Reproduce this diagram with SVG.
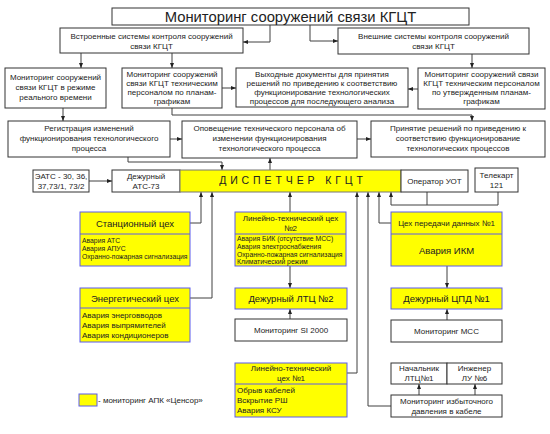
<svg xmlns="http://www.w3.org/2000/svg" width="550" height="434" viewBox="0 0 550 434">
<defs>
<marker id="ah" viewBox="0 0 10 10" refX="10" refY="5" markerWidth="5" markerHeight="5" orient="auto" markerUnits="userSpaceOnUse"><path d="M0,1 L10,5 L0,9 z" fill="#222"/></marker>
<style>
text{font-family:"Liberation Sans",Arial,sans-serif;fill:#222;text-anchor:middle}
.w{fill:#fff;stroke:#333;stroke-width:1}
.y{fill:#ffff00;stroke:#5a5aee;stroke-width:1}
.dv{stroke:#5a5aee;stroke-width:1}
.c{fill:none;stroke:#404040;stroke-width:1}
.ca{fill:none;stroke:#404040;stroke-width:1;marker-end:url(#ah)}
.s8{font-size:8px}
.s7{font-size:6.8px}
.s9{font-size:9.5px}
.l{text-anchor:start}
</style>
</defs>
<rect width="550" height="434" fill="#fff"/>

<g id="connectors">
<path class="ca" d="M270,25 V42 H243"/>
<path class="ca" d="M310,25 V41 H338"/>
<path class="ca" d="M81,53 V68"/>
<path class="ca" d="M172,53 V68"/>
<path class="ca" d="M222,88 H236"/>
<path class="ca" d="M418,89 H408"/>
<path class="ca" d="M472,54 V68"/>
<path class="ca" d="M172,108 V115 H472 V121"/>
<path class="ca" d="M63,108 V121"/>
<path class="ca" d="M170,139 H182"/>
<path class="ca" d="M357,139 H371"/>
<path class="ca" d="M128,157 V162 H222 V170"/>
<path class="ca" d="M270,170 V158"/>
<path class="ca" d="M89,181 H112"/>
<path class="ca" d="M190,223 H201 V192"/>
<path class="ca" d="M190,298 H212 V192"/>
<path class="ca" d="M290,212 V192"/>
<path class="ca" d="M346,373 H357 V192"/>
<path class="ca" d="M391,406 H368 V192"/>
<path class="ca" d="M391,223 H379 V192"/>
<path class="c" d="M427,192 V205"/>
<path class="ca" d="M498,192 V205 H391 V192"/>
<path class="ca" d="M290,266 V288"/>
<path class="ca" d="M290,319 V309"/>
<path class="ca" d="M447,266 V288"/>
<path class="ca" d="M447,320 V309"/>
<path class="ca" d="M419,395 V384"/>
<path class="ca" d="M475,395 V384"/>
</g>

<g id="title"><rect class="w" x="112" y="8" width="357" height="17"/><text x="290.5" y="21.5" style="font-size:14.8px">Мониторинг сооружений связи КГЦТ</text></g>

<g id="builtin"><rect class="w" x="60" y="28" width="183" height="25"/><text class="s8" x="151.5" y="39">Встроенные системы контроля сооружений</text><text class="s8" x="151.5" y="49">связи КГЦТ</text></g>
<g id="external"><rect class="w" x="338" y="28" width="191" height="26"/><text class="s8" x="433.5" y="39">Внешние системы контроля сооружений</text><text class="s8" x="433.5" y="49">связи КГЦТ</text></g>

<g id="realtime"><rect class="w" x="5" y="68" width="101" height="40"/><text class="s8" x="55.5" y="80">Мониторинг сооружений</text><text class="s8" x="55.5" y="90">связи КГЦТ в режиме</text><text class="s8" x="55.5" y="100">реального времени</text></g>
<g id="plan1"><rect class="w" x="122" y="68" width="100" height="40"/><text class="s8" x="172" y="77">Мониторинг сооружений</text><text class="s8" x="172" y="86">связи КГЦТ техническим</text><text class="s8" x="172" y="95">персоналом по планам-</text><text class="s8" x="172" y="104">графикам</text></g>
<g id="docs"><rect class="w" x="236" y="68" width="172" height="39"/><text class="s8" x="322" y="77">Выходные документы для принятия</text><text class="s8" x="322" y="86">решений по приведению к соответствию</text><text class="s8" x="322" y="95">функционирование технологических</text><text class="s8" x="322" y="104">процессов для последующего анализа</text></g>
<g id="plan2"><rect class="w" x="418" y="68" width="127" height="41"/><text class="s8" x="481.5" y="77">Мониторинг сооружений связи</text><text class="s8" x="481.5" y="86">КГЦТ техническим персоналом</text><text class="s8" x="481.5" y="95">по утвержденным планам-</text><text class="s8" x="481.5" y="104">графикам</text></g>

<g id="registration"><rect class="w" x="8" y="121" width="162" height="36"/><text class="s8" x="89" y="131">Регистрация изменений</text><text class="s8" x="89" y="141">функционирования технологического</text><text class="s8" x="89" y="151">процесса</text></g>
<g id="notify"><rect class="w" x="182" y="121" width="175" height="37"/><text class="s8" x="269.5" y="131">Оповещение технического персонала об</text><text class="s8" x="269.5" y="141">изменении функционирования</text><text class="s8" x="269.5" y="151">технологического процесса</text></g>
<g id="decision"><rect class="w" x="371" y="121" width="174" height="36"/><text class="s8" x="458" y="131">Принятие решений по приведению к</text><text class="s8" x="458" y="141">соответствию функционирование</text><text class="s8" x="458" y="151">технологических процессов</text></g>

<g id="eats"><rect class="w" x="33" y="170" width="56" height="22"/><text class="s8" x="61" y="179">ЭАТС - 30, 36,</text><text class="s8" x="61" y="189">37,73/1, 73/2</text></g>
<g id="duty-ats"><rect class="w" x="112" y="170" width="68" height="22"/><text class="s8" x="146" y="179">Дежурный</text><text class="s8" x="146" y="189">АТС-73</text></g>
<g id="dispatcher"><rect class="y" x="180" y="170" width="221" height="22" style="stroke:#777"/><text x="293" y="184" style="font-size:10.5px;letter-spacing:3.9px">ДИСПЕТЧЕР  КГЦТ</text></g>
<g id="operator"><rect class="w" x="401" y="170" width="67" height="22"/><text class="s8" x="434.5" y="184">Оператор УОТ</text></g>
<g id="telecart"><rect class="w" x="475" y="168" width="43" height="24"/><text class="s8" x="496.5" y="178">Телекарт</text><text class="s8" x="496.5" y="188">121</text></g>

<g id="station"><rect class="y" x="80" y="212" width="110" height="54"/><line class="dv" x1="80" y1="234" x2="190" y2="234"/><text class="s9" x="135" y="226.5">Станционный цех</text><text class="s7 l" x="82" y="243">Авария АТС</text><text class="s7 l" x="82" y="251">Авария АПУС</text><text class="s7 l" x="82" y="259">Охранно-пожарная сигнализация</text></g>
<g id="energy"><rect class="y" x="80" y="288" width="110" height="54"/><line class="dv" x1="80" y1="308" x2="190" y2="308"/><text class="s9" x="135" y="301.5">Энергетический цех</text><text class="s8 l" x="82" y="318">Авария энерговводов</text><text class="s8 l" x="82" y="328">Авария выпрямителей</text><text class="s8 l" x="82" y="338">Авария кондиционеров</text></g>
<g id="ltc2"><rect class="y" x="235" y="212" width="111" height="54"/><line class="dv" x1="235" y1="234" x2="346" y2="234"/><text class="s8" x="290.5" y="221">Линейно-технический цех</text><text class="s8" x="290.5" y="231">№2</text><text class="s7 l" x="237" y="240.5">Авария БИК (отсутствие МСС)</text><text class="s7 l" x="237" y="248.5">Авария электроснабжения</text><text class="s7 l" x="237" y="256.5">Охранно-пожарная сигнализация</text><text class="s7 l" x="237" y="264">Климатический режим</text></g>
<g id="duty-ltc2"><rect class="y" x="235" y="288" width="112" height="21"/><text class="s9" x="291" y="302">Дежурный ЛТЦ №2</text></g>
<g id="si2000"><rect class="w" x="235" y="319" width="112" height="22"/><text class="s8" x="291" y="333">Мониторинг SI 2000</text></g>
<g id="data"><rect class="y" x="391" y="212" width="111" height="54"/><line class="dv" x1="391" y1="234" x2="502" y2="234"/><text class="s8" x="446.5" y="226">Цех передачи данных №1</text><text class="s9" x="446.5" y="253.5">Авария ИКМ</text></g>
<g id="duty-cpd"><rect class="y" x="391" y="288" width="111" height="21"/><text class="s9" x="446.5" y="302">Дежурный ЦПД №1</text></g>
<g id="mss"><rect class="w" x="391" y="320" width="111" height="22"/><text class="s8" x="446.5" y="334">Мониторинг МСС</text></g>
<g id="ltc1"><rect class="y" x="235" y="363" width="112" height="54"/><line class="dv" x1="235" y1="384" x2="347" y2="384"/><text class="s8" x="291" y="371">Линейно-технический</text><text class="s8" x="291" y="381">цех №1</text><text class="s8 l" x="237" y="393">Обрыв кабелей</text><text class="s8 l" x="237" y="403">Вскрытие РШ</text><text class="s8 l" x="237" y="413">Авария КСУ</text></g>
<g id="chief"><rect class="w" x="391" y="363" width="56" height="21"/><text class="s8" x="419" y="371">Начальник</text><text class="s8" x="419" y="381">ЛТЦ№1</text></g>
<g id="engineer"><rect class="w" x="447" y="363" width="55" height="21"/><text class="s8" x="474.5" y="371">Инженер</text><text class="s8" x="474.5" y="381">ЛУ №6</text></g>
<g id="pressure"><rect class="w" x="391" y="395" width="111" height="22"/><text class="s8" x="446.5" y="403.5">Мониторинг избыточного</text><text class="s8" x="446.5" y="413.5">давления в кабеле</text></g>

<g id="legend"><rect class="y" x="79" y="394" width="18" height="12"/><text class="s8 l" x="98" y="403">- мониторинг АПК «Ценсор»</text></g>
</svg>
